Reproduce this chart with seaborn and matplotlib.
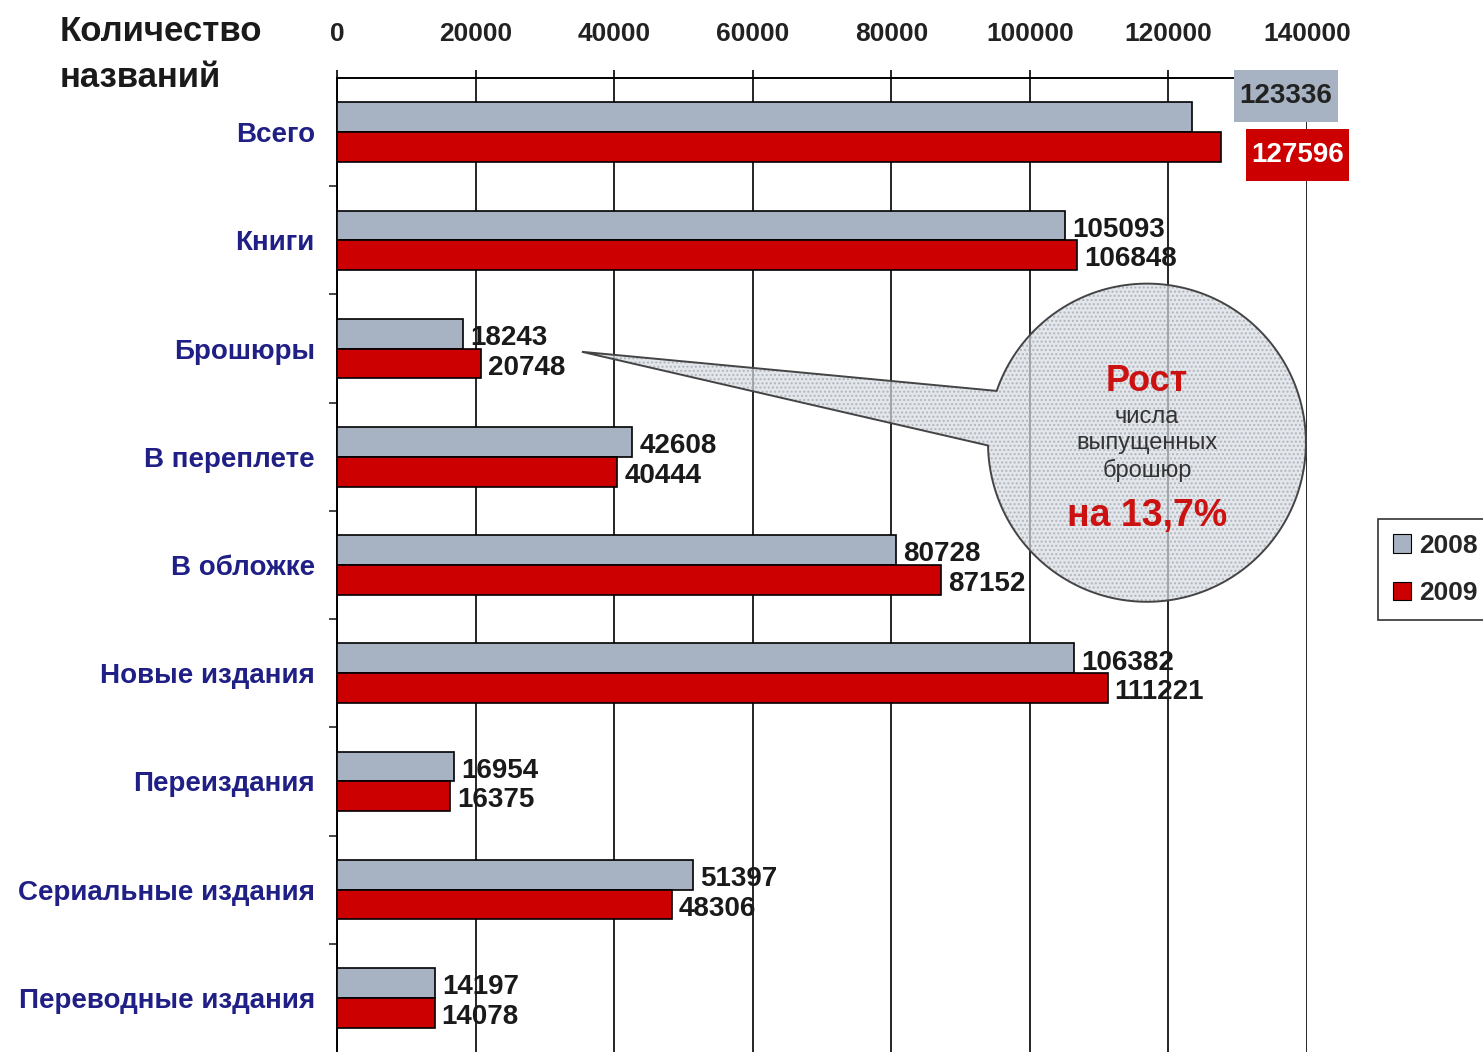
import numpy as np
import pandas as pd
import seaborn as sns
import matplotlib.pyplot as plt
from matplotlib.patches import Polygon
from matplotlib.path import Path
from matplotlib.ticker import FixedLocator

# Chart data
categories = ["Всего", "Книги", "Брошюры", "В переплете", "В обложке",
              "Новые издания", "Переиздания", "Сериальные издания",
              "Переводные издания"]
values_2008 = [123336, 105093, 18243, 42608, 80728, 106382, 16954, 51397, 14197]
values_2009 = [127596, 106848, 20748, 40444, 87152, 111221, 16375, 48306, 14078]
years = ["2008", "2009"]
x_ticks = [0, 20000, 40000, 60000, 80000, 100000, 120000, 140000]

df = pd.DataFrame({
    "category": categories * 2,
    "value": values_2008 + values_2009,
    "year": [years[0]] * len(categories) + [years[1]] * len(categories),
})

sns.set_style("white")
plt.rcParams["font.family"] = ["Liberation Sans", "DejaVu Sans"]

gray = "#a7b3c2"
red = "#cc0000"
navy = "#1f1f85"


def tall_box(x0, y0, width, height, mutation_size):
    # square box with more vertical than horizontal padding
    px, py = 0.2 * mutation_size, 0.47 * mutation_size
    x0, y0 = x0 - px, y0 - py
    x1, y1 = x0 + width + 2 * px, y0 + height + 2 * py
    return Path([(x0, y0), (x1, y0), (x1, y1), (x0, y1), (x0, y0)], closed=True)


fig = plt.figure(figsize=(14.83, 10.52), dpi=100)
ax = fig.add_axes([337 / 1483, 0.0, (1307 - 337) / 1483, (1052 - 78) / 1052])

sns.barplot(data=df, y="category", x="value", hue="year", order=categories,
            palette=[gray, red], saturation=1, width=0.55, edgecolor="black",
            linewidth=1.2, orient="h", ax=ax, legend=True, zorder=3)

ax.set_xlim(0, 140000)
ax.set_ylim(len(categories) - 0.5, -0.5)
ax.set_xlabel("")
ax.set_ylabel("")

# axes: top ticks, left spine only
ax.xaxis.tick_top()
ax.set_xticks(x_ticks)
ax.set_xticklabels([str(t) for t in x_ticks], fontsize=19, fontweight="bold")
ax.tick_params(axis="x", which="major", direction="out", length=6, width=1.2,
               pad=17, colors="black", labelcolor="#222222")
ax.grid(axis="x", color="black", linewidth=1.2, zorder=1)
ax.set_axisbelow(True)
for s in ["right", "bottom"]:
    ax.spines[s].set_visible(False)
for s in ["top", "left"]:
    ax.spines[s].set_color("black")
    ax.spines[s].set_linewidth(1.4)

ax.set_yticks(range(len(categories)))
ax.set_yticklabels(categories, fontsize=20, fontweight="bold", color=navy)
ax.tick_params(axis="y", which="major", length=0, pad=16)
ax.yaxis.set_minor_locator(FixedLocator(np.arange(0.5, len(categories) - 0.5, 1)))
ax.tick_params(axis="y", which="minor", length=6, width=1.2, direction="out",
               left=True)

# value labels
for ci, cont in enumerate(ax.containers):
    for i, bar in enumerate(cont):
        w = bar.get_width()
        yc = bar.get_y() + bar.get_height() / 2
        if i == 0:
            if ci == 0:
                ax.annotate(f"{int(w)}", (w, yc), xytext=(68, 15),
                            textcoords="offset points", ha="center", va="center",
                            fontsize=20, fontweight="bold", color="#222222",
                            bbox=dict(boxstyle=tall_box, fc=gray, ec="none"),
                            zorder=6, annotation_clip=False)
            else:
                ax.annotate(f"{int(w)}", (w, yc), xytext=(55, -6),
                            textcoords="offset points", ha="center", va="center",
                            fontsize=20, fontweight="bold", color="white",
                            bbox=dict(boxstyle=tall_box, fc=red, ec="none"),
                            zorder=6, annotation_clip=False)
        else:
            ax.annotate(f"{int(w)}", (w, yc), xytext=(5, -3),
                        textcoords="offset points", ha="left", va="center",
                        fontsize=20, fontweight="bold", color="#1a1a1a", zorder=5)

# callout bubble (data coordinates)
cx, cy = 116900, 2.87
rx, ry = 22940, 1.47
tip = (35350, 2.03)
t = np.radians(np.linspace(181, 521, 200))
pts = [(cx + rx * np.cos(a), cy - ry * np.sin(a)) for a in t]
pts.append(tip)
ax.add_patch(Polygon(pts, closed=True, fc="#d8dce3", ec="none", alpha=0.7,
                     zorder=4))
ax.add_patch(Polygon(pts, closed=True, fc="none", ec="#a0a6ae", hatch="....",
                     lw=0, alpha=0.7, zorder=4))
ax.add_patch(Polygon(pts, closed=True, fc="none", ec="#444444", lw=1.4,
                     zorder=4))
ax.text(cx, 2.30, "Рост", ha="center", va="center", fontsize=26,
        fontweight="bold", color="#cc1111", zorder=5)
ax.text(cx, 2.88, "числа\nвыпущенных\nброшюр", ha="center", va="center",
        fontsize=17, color="#333333", linespacing=1.25, zorder=5)
ax.text(cx, 3.55, "на 13,7%", ha="center", va="center", fontsize=27,
        fontweight="bold", color="#cc1111", zorder=5)

# title
fig.text(60 / 1483, 1 - 15 / 1052, "Количество\nназваний", ha="left", va="top",
         fontsize=25, fontweight="bold", color="#1a1a1a", linespacing=1.5)

# legend
leg = ax.legend(loc="upper left", bbox_to_anchor=(1378 / 1483, 1 - 519 / 1052),
                bbox_transform=fig.transFigure, frameon=True, fancybox=False,
                prop={"size": 19, "weight": "bold"}, handlelength=0.7,
                handleheight=0.7, handletextpad=0.3, labelspacing=0.9,
                borderpad=0.55, borderaxespad=0)
leg.get_frame().set_edgecolor("black")
leg.get_frame().set_linewidth(1.2)
for h in leg.legend_handles:
    h.set_edgecolor("black")
    h.set_linewidth(0.8)

fig.savefig("out.png", dpi=100)
